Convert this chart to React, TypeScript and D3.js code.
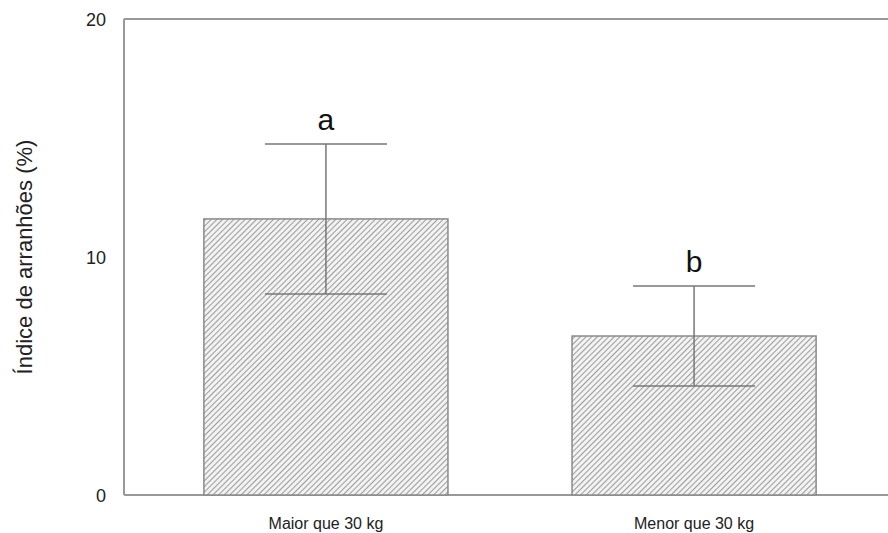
import React from 'react'
import * as d3 from 'd3'

const categories = ['Maior que 30 kg', 'Menor que 30 kg']
const means = [11.6, 6.68]
const errors = [3.15, 2.1]
const letters = ['a', 'b']
const yTicks = [0, 10, 20]

export default function App() {
  const width = 888
  const height = 533
  const left = 124
  const top = 19
  const bottom = 495

  const y = d3.scaleLinear().domain([0, 20]).range([bottom, top])
  const x = d3.scaleBand()
    .domain(categories)
    .range([left, 896])
    .paddingInner(0.337)
    .paddingOuter(0.217)

  const capW = x.bandwidth() * 0.5
  const font = 'Liberation Sans, Arial, sans-serif'

  return (
    <svg width={width} height={height} style={{ position: 'absolute', left: 0, top: 0 }}>
      <defs>
        <pattern id="hatch" patternUnits="userSpaceOnUse" width="4" height="4" patternTransform="rotate(45)">
          <rect width="4" height="4" fill="#f2f2f2" />
          <line x1="0" y1="0" x2="0" y2="4" stroke="#8c8c8c" strokeWidth="1.7" />
        </pattern>
      </defs>

      {/* frame */}
      <line x1={left} x2={width} y1={top} y2={top} stroke="#999" strokeWidth={2} />
      <line x1={left} x2={left} y1={top} y2={bottom} stroke="#999" strokeWidth={2} />
      <line x1={left} x2={width} y1={bottom} y2={bottom} stroke="#999" strokeWidth={2} />

      {yTicks.map(t => (
        <text key={t} x={left - 18} y={y(t) + 7} textAnchor="end" fontSize={18} fontFamily={font} fill="#222">{t}</text>
      ))}

      <text transform={`translate(32, ${(top + bottom) / 2}) rotate(-90)`} textAnchor="middle" fontSize={22} fontFamily={font} fill="#222">
        Índice de arranhões (%)
      </text>

      {categories.map((c, i) => {
        const x0 = x(c) as number
        const cx = x0 + x.bandwidth() / 2
        const hi = y(means[i] + errors[i])
        const lo = y(means[i] - errors[i])
        return (
          <g key={c}>
            <rect x={x0} y={y(means[i])} width={x.bandwidth()} height={bottom - y(means[i])}
              fill="url(#hatch)" stroke="#8a8a8a" strokeWidth={1.5} />
            <line x1={cx} x2={cx} y1={hi} y2={lo} stroke="#777" strokeWidth={1.5} />
            <line x1={cx - capW / 2} x2={cx + capW / 2} y1={hi} y2={hi} stroke="#777" strokeWidth={1.5} />
            <line x1={cx - capW / 2} x2={cx + capW / 2} y1={lo} y2={lo} stroke="#777" strokeWidth={1.5} />
            <text x={cx} y={hi - 14} textAnchor="middle" fontSize={30} fontFamily={font} fill="#111">{letters[i]}</text>
            <text x={cx} y={529} textAnchor="middle" fontSize={16} fontFamily={font} fill="#222">{c}</text>
          </g>
        )
      })}
    </svg>
  )
}
